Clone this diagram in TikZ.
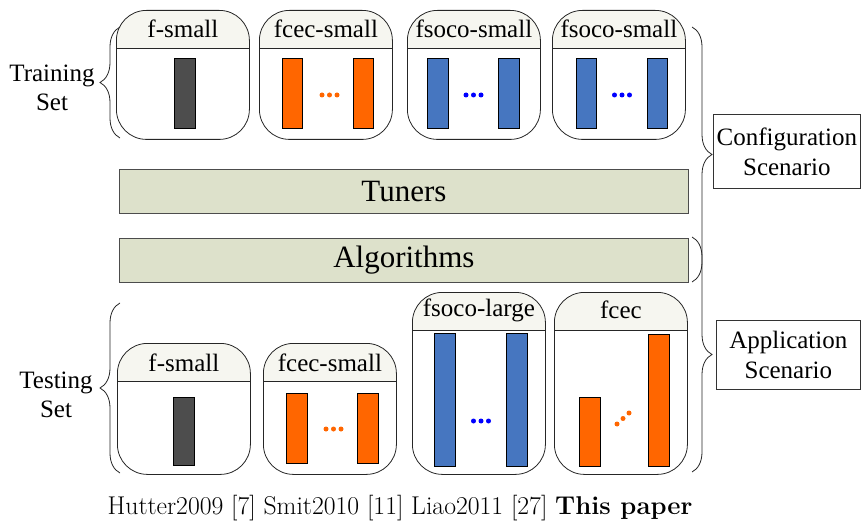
\documentclass[tikz,border=0pt]{standalone}
\usepackage{fontspec}
\newfontfamily\timesfont{Liberation Serif}
\usepackage{xcolor}
\usetikzlibrary{
    decorations.pathreplacing,
    calc,
    positioning
}
\definecolor{headfill}{RGB}{246,246,240}
\definecolor{barfill}{RGB}{221,225,203}
\definecolor{darkbar}{RGB}{77,77,77}
\definecolor{orangebar}{RGB}{255,102,0}
\definecolor{bluebar}{RGB}{70,118,192}
\definecolor{bluedot}{RGB}{0,0,255}
\tikzset{
    card/.style={
        draw=black!85,
        line width=0.8pt,
        rounded corners=30pt,
        minimum width=133pt,
        anchor=north west,
        inner sep=0pt,
        path picture={
            \fill[headfill, sharp corners] (path picture bounding box.north west) rectangle ([yshift=-38pt]path picture bounding box.east |- path picture bounding box.north);
            \draw[black!85, line width=0.8pt, sharp corners] ([yshift=-38pt]path picture bounding box.north west) -- ([yshift=-38pt]path picture bounding box.north east);
        }
    },
    cardlabel/.style={font=\timesfont\fontsize{25}{29}\selectfont, inner sep=0pt},
    sidelabel/.style={font=\timesfont\fontsize{25}{29}\selectfont, align=center, inner sep=0pt},
    scenariobox/.style={draw=black!80, line width=0.7pt, anchor=north west, align=center, inner sep=0pt,
        font=\timesfont\fontsize{25}{30}\selectfont},
    layerbar/.style={draw=black!70, fill=barfill, line width=0.8pt, anchor=north west, minimum width=569pt, minimum height=44pt,
        inner sep=0pt, font=\timesfont\fontsize{31}{36}\selectfont},
    bracedeco/.style={decorate, decoration={brace, amplitude=20pt}, line width=0.8pt, draw=black!85},
    darkcol/.style={draw=black, line width=0.6pt, fill=darkbar},
    orangecol/.style={draw=black, line width=0.6pt, fill=orangebar},
    bluecol/.style={draw=black, line width=0.6pt, fill=bluebar}
}
\begin{document}
\begin{tikzpicture}[x=1pt, y=-1pt]
    \useasboundingbox (0,0) rectangle (861,521);

    % training set
    \node[card, minimum height=129pt] (tr1) at (116,10) {};
    \node[card, minimum height=129pt] (tr2) at (259,10) {};
    \node[card, minimum height=129pt] (tr3) at (407,10) {};
    \node[card, minimum height=129pt] (tr4) at (552,10) {};
    \node[cardlabel] (tr1l) at ([yshift=-19pt]tr1.north) {f-small};
    \node[cardlabel] (tr2l) at ([yshift=-19pt]tr2.north) {fcec-small};
    \node[cardlabel] (tr3l) at ([yshift=-19pt]tr3.north) {fsoco-small};
    \node[cardlabel] (tr4l) at ([yshift=-19pt]tr4.north) {fsoco-small};
    \draw[darkcol] (174,58) rectangle (195,128);
    \draw[orangecol] (282,58) rectangle (302,128);
    \draw[orangecol] (353,58) rectangle (373,128);
    \fill[orangebar] (322,95) circle (2.5) (329.5,95) circle (2.5) (337,95) circle (2.5);
    \draw[bluecol] (427,58) rectangle (448,128);
    \draw[bluecol] (498,58) rectangle (519,128);
    \fill[bluedot] (466,95) circle (2.5) (473.5,95) circle (2.5) (481,95) circle (2.5);
    \draw[bluecol] (576,58) rectangle (596,128);
    \draw[bluecol] (647,58) rectangle (667,128);
    \fill[bluedot] (614.5,95) circle (2.5) (622,95) circle (2.5) (629.5,95) circle (2.5);

    % tuners and algorithms
    \node[layerbar] (tuners) at (119,169) {Tuners};
    \node[layerbar] (algos) at (119,238) {Algorithms};

    % testing set
    \node[card, minimum height=131pt] (te1) at (117,343) {};
    \node[card, minimum height=131pt] (te2) at (263,343) {};
    \node[card, minimum height=182pt] (te3) at (412,292) {};
    \node[card, minimum height=182pt] (te4) at (554,292) {};
    \node[cardlabel] (te1l) at ([yshift=-20pt]te1.north) {f-small};
    \node[cardlabel] (te2l) at ([yshift=-20pt]te2.north) {fcec-small};
    \node[cardlabel] (te3l) at ([yshift=-18pt]te3.north) {fsoco-large};
    \node[cardlabel] (te4l) at ([yshift=-18pt]te4.north) {fcec};
    \draw[darkcol] (173,397) rectangle (194,465);
    \draw[orangecol] (286,393) rectangle (307,463);
    \draw[orangecol] (357,393) rectangle (378,463);
    \fill[orangebar] (326,429) circle (2.5) (333.5,429) circle (2.5) (341,429) circle (2.5);
    \draw[bluecol] (434,333) rectangle (455,466);
    \draw[bluecol] (506,333) rectangle (527,466);
    \fill[bluedot] (473.5,421) circle (2.5) (481,421) circle (2.5) (488.5,421) circle (2.5);
    \draw[orangecol] (579,397) rectangle (600,466);
    \draw[orangecol] (648,334) rectangle (669,466);
    \fill[orangebar] (617,424) circle (2.5) (623,418.5) circle (2.5) (629,413) circle (2.5);

    % set braces on the left
    \draw[bracedeco] (120,138) -- (120,27);
    \draw[bracedeco] (120,473) -- (120,303);
    \node[sidelabel] (trainlbl) at (52,88) {Training\\Set};
    \node[sidelabel] (testlbl) at (56,395) {Testing\\Set};

    % scenario braces on the right
    \draw[bracedeco] (692,27) -- (692,282);
    \draw[bracedeco] (692,237) -- (692,472);
    \node[scenariobox, minimum width=147pt, minimum height=74pt] (config) at (713,114) {Configuration\\Scenario};
    \node[scenariobox, minimum width=144pt, minimum height=69pt] (appl) at (716,320) {Application\\Scenario};

    \node[font=\fontsize{25.7}{30}\selectfont, inner sep=0pt] (caption) at (400,508)
        {Hutter2009 [7] Smit2010 [11] Liao2011 [27] \textbf{This paper}};
\end{tikzpicture}
\end{document}
